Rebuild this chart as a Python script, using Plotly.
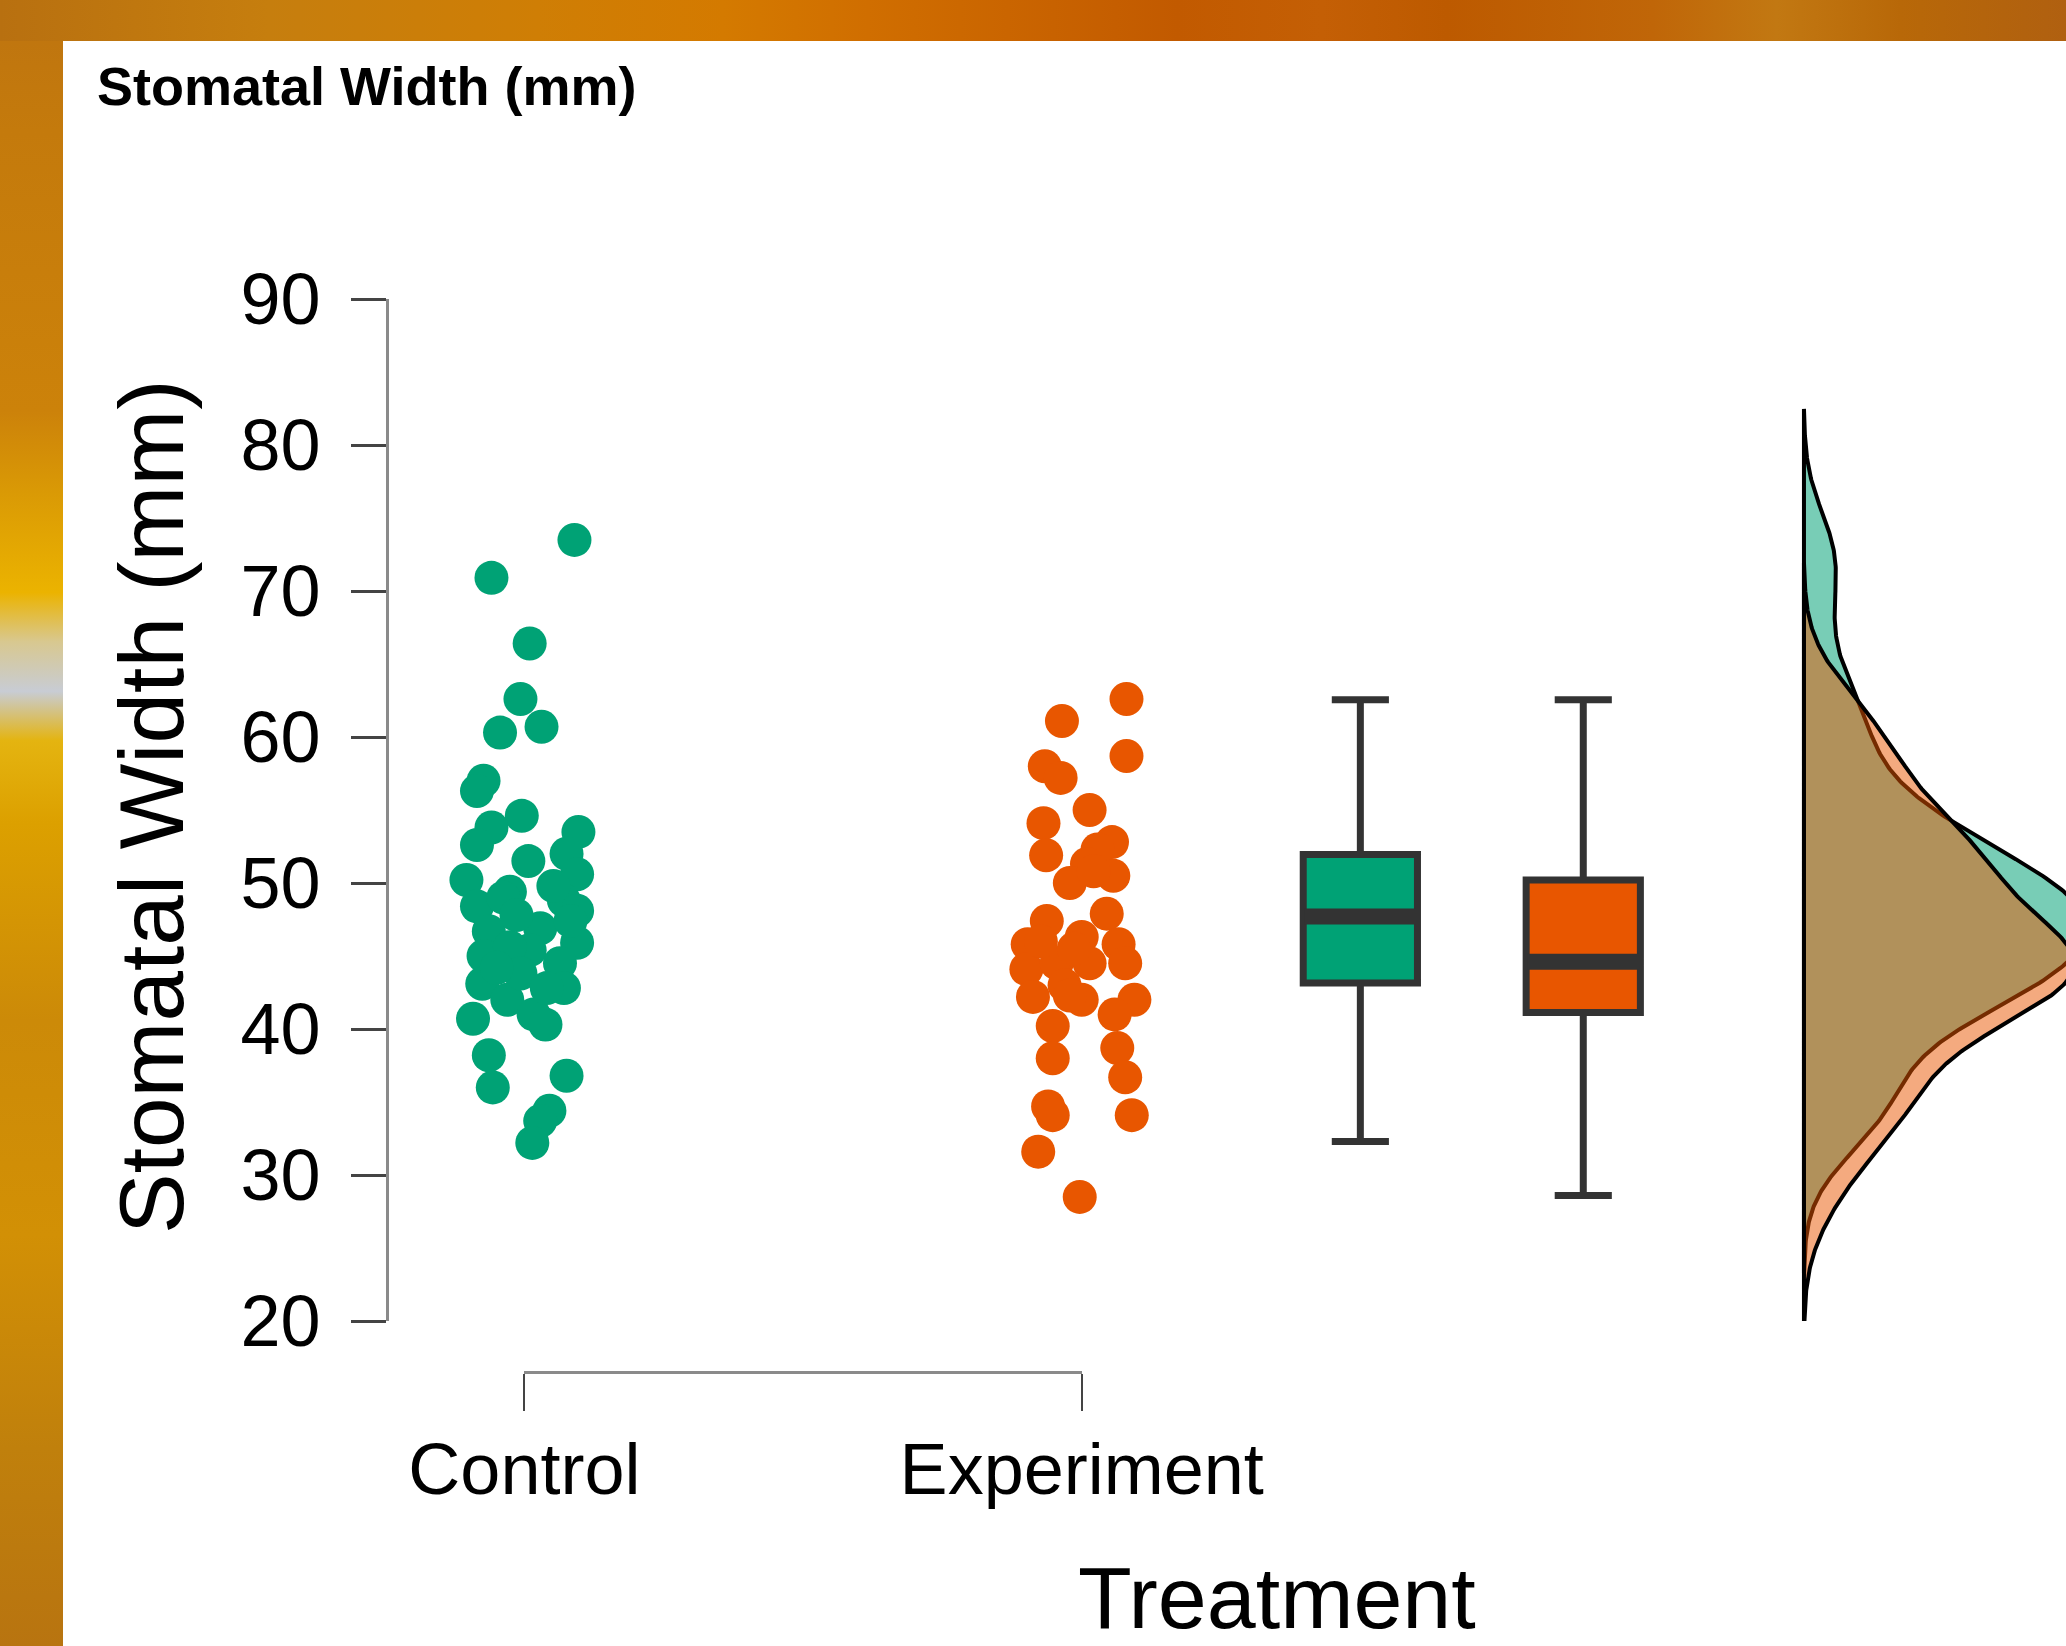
import base64
import numpy as np
import plotly.graph_objects as go

# ---------------- data ----------------
categories = ["Control", "Experiment"]

control_jitter = [436, 373, 402, 395, 411, 379.5, 367, 362, 396, 373, 439, 362, 401, 430,
                  354, 438, 387, 362, 428, 438, 371, 410, 438, 367, 402, 425, 366, 385,
                  428, 405, 414, 359, 371, 374, 430, 417, 410, 404, 387, 395, 415, 377,
                  433, 382, 420, 392]
control_values = [73.5, 70.9, 66.4, 62.6, 60.7, 60.3, 57.0, 56.3, 54.6, 53.8, 53.5, 52.6, 51.5, 52.0,
                  50.2, 50.6, 49.4, 48.4, 48.8, 48.1, 46.7, 46.9, 45.9, 45.0, 45.4, 44.5, 43.1, 42.0,
                  42.8, 41.0, 40.3, 40.7, 38.2, 36.0, 36.8, 34.4, 33.7, 32.2, 45.6, 43.8, 42.8, 44.2,
                  47.4, 49.0, 49.8, 47.8]

experiment_jitter = [855, 806, 855, 793, 805, 827, 792, 794, 844, 833, 825, 845, 812, 840,
                     794.5, 780, 821, 849, 779, 827, 854, 802, 784, 821, 861, 846, 799, 848,
                     799, 854, 795.5, 799, 859, 788, 819.5, 815, 808, 830, 790, 812]
experiment_values = [62.6, 61.1, 58.7, 58.0, 57.2, 55.0, 54.1, 51.9, 52.8, 52.3, 51.3, 50.5, 50.0, 47.9,
                     47.4, 45.8, 46.3, 45.8, 44.1, 44.5, 44.5, 44.5, 42.2, 42.0, 42.0, 41.0, 40.2, 38.7,
                     38.0, 36.7, 34.7, 34.1, 34.1, 31.6, 28.5, 45.5, 43.0, 50.8, 46.0, 42.3]

# box-plot statistics
box_q1 = [43.15, 41.13]
box_median = [47.7, 44.6]
box_q3 = [51.95, 50.2]
box_lower = [32.3, 28.6]
box_upper = [62.55, 62.55]

y_ticks = [20, 30, 40, 50, 60, 70, 80, 90]

# ---------------- layout constants ----------------
W, H = 2066, 1646
PX_PER_UNIT = 557.3
X_CTRL_PX = 524.4
xmin = 1 - X_CTRL_PX / PX_PER_UNIT
xmax = xmin + W / PX_PER_UNIT
box_pos = [2.5, 2.9]
dens_base = 3.296
green = "#00A275"
orange = "#E85600"
FONT = "Liberation Sans, Arial, sans-serif"

def jit_to_x(j, center):
    # jitter was read in 1568-wide preview pixels
    return [center + (v - (398 if center == 1 else 821)) / 423.0 for v in j]

ctrl_x = jit_to_x(control_jitter, 1)
exp_x = jit_to_x(experiment_jitter, 2)

def kde(vals):
    v = np.asarray(vals, float)
    n = len(v)
    iqr = np.percentile(v, 75) - np.percentile(v, 25)
    bw = 0.9 * min(v.std(ddof=1), iqr / 1.34) * n ** -0.2
    g = np.linspace(v.min() - 3 * bw, v.max() + 3 * bw, 512)
    d = np.exp(-0.5 * ((g[:, None] - v[None, :]) / bw) ** 2).sum(1) / (n * bw * np.sqrt(2 * np.pi))
    return g, d

g1, d1 = kde(control_values)
g2, d2 = kde(experiment_values)
scale = 0.485 / d2.max()

fig = go.Figure()

fig.add_trace(go.Scatter(x=ctrl_x, y=control_values, mode="markers",
                         marker=dict(size=34, color=green, line=dict(width=0)), showlegend=False))
fig.add_trace(go.Scatter(x=exp_x, y=experiment_values, mode="markers",
                         marker=dict(size=34, color=orange, line=dict(width=0)), showlegend=False))

for i, col in enumerate([green, orange]):
    fig.add_trace(go.Box(x=[box_pos[i]], q1=[box_q1[i]], median=[box_median[i]], q3=[box_q3[i]],
                         lowerfence=[box_lower[i]], upperfence=[box_upper[i]],
                         width=0.205, whiskerwidth=0.5, fillcolor=col,
                         line=dict(color="#333333", width=7), boxpoints=False,
                         orientation="v", showlegend=False, hoverinfo="skip"))
    fig.add_trace(go.Scatter(x=[box_pos[i] - 0.1, box_pos[i] + 0.1], y=[box_median[i]] * 2,
                             mode="lines", line=dict(color="#333333", width=16), showlegend=False))

for g, d, fc in [(g1, d1, "rgba(0,161,117,0.53)"), (g2, d2, "rgba(233,86,0,0.5)")]:
    xs = np.concatenate([[dens_base], dens_base + d * scale, [dens_base, dens_base]])
    ys = np.concatenate([[g[0]], g, [g[-1], g[0]]])
    fig.add_trace(go.Scatter(x=xs, y=ys, mode="lines", fill="toself", fillcolor=fc,
                             line=dict(color="black", width=4), showlegend=False))

# dummy trace so that the category axis (x2) exists
fig.add_trace(go.Scatter(x=[1, 2], y=[None, None], xaxis="x2", yaxis="y", showlegend=False))

# background: orange strips drawn as an svg gradient
svg = f"""<svg xmlns='http://www.w3.org/2000/svg' width='{W}' height='{H}' preserveAspectRatio='none'>
<defs>
<linearGradient id='l' x1='0' y1='0' x2='0' y2='1'>
<stop offset='0' stop-color='#BE7410'/><stop offset='0.08' stop-color='#C47A0C'/>
<stop offset='0.25' stop-color='#CC820A'/><stop offset='0.3' stop-color='#DA9A05'/>
<stop offset='0.36' stop-color='#EBB300'/><stop offset='0.39' stop-color='#D8C890'/>
<stop offset='0.42' stop-color='#C8CCD4'/><stop offset='0.45' stop-color='#E4B410'/>
<stop offset='0.5' stop-color='#DCA000'/><stop offset='0.62' stop-color='#CC8A08'/>
<stop offset='0.75' stop-color='#D29005'/><stop offset='0.88' stop-color='#C0800C'/>
<stop offset='1' stop-color='#B87410'/>
</linearGradient>
<linearGradient id='t' x1='0' y1='0' x2='1' y2='0'>
<stop offset='0' stop-color='#B87010'/><stop offset='0.13' stop-color='#C67E0E'/>
<stop offset='0.26' stop-color='#CF7E05'/><stop offset='0.35' stop-color='#D47A00'/>
<stop offset='0.42' stop-color='#D06E00'/><stop offset='0.51' stop-color='#C86200'/>
<stop offset='0.57' stop-color='#C25A00'/><stop offset='0.64' stop-color='#C45F05'/>
<stop offset='0.7' stop-color='#BD5A00'/><stop offset='0.8' stop-color='#C06608'/>
<stop offset='0.86' stop-color='#C27812'/><stop offset='0.92' stop-color='#B86808'/>
<stop offset='1' stop-color='#B06010'/>
</linearGradient>
</defs>
<rect x='0' y='0' width='{W}' height='{H}' fill='url(#l)'/>
<rect x='0' y='0' width='{W}' height='41' fill='url(#t)'/>
<rect x='63' y='41' width='{W-63}' height='{H-41}' fill='#ffffff'/>
</svg>"""
src = "data:image/svg+xml;base64," + base64.b64encode(svg.encode()).decode()

ydom = [1 - 1321 / H, 1 - 299 / H]

fig.update_layout(
    width=W, height=H, margin=dict(l=0, r=0, t=0, b=0, pad=0, autoexpand=False),
    paper_bgcolor="#C87510", plot_bgcolor="rgba(0,0,0,0)",
    boxmode="overlay", showlegend=False,
    font=dict(family=FONT, color="black"),
    images=[dict(source=src, xref="paper", yref="paper", x=0, y=1, sizex=1, sizey=1,
                 xanchor="left", yanchor="top", sizing="stretch", layer="below")],
    shapes=[dict(type="rect", xref="paper", yref="paper", x0=63 / W, x1=1, y0=0, y1=1 - 41 / H,
                 fillcolor="white", line=dict(width=0), layer="below")],
    xaxis=dict(domain=[0, 1], range=[xmin, xmax], visible=False, fixedrange=True, automargin=False),
    xaxis2=dict(domain=[X_CTRL_PX / W, (X_CTRL_PX + PX_PER_UNIT) / W], range=[1, 2],
                anchor="free", position=1 - 1372 / H, tickmode="array", tickvals=[1, 2],
                ticktext=categories, ticks="outside", ticklen=37, tickwidth=2, tickcolor="#444444",
                showline=True, linecolor="#8a8a8a", linewidth=3, showgrid=False, zeroline=False,
                automargin=False, fixedrange=True,
                tickfont=dict(size=72, family=FONT, color="black"), ticklabelstandoff=-3),
    yaxis=dict(domain=ydom, range=[20, 90], anchor="free", position=387 / W,
               tickmode="array", tickvals=y_ticks, ticks="outside", ticklen=35, tickwidth=2.5,
               tickcolor="#444444", showline=True, linecolor="#8a8a8a", linewidth=3,
               showgrid=False, zeroline=False, automargin=False, fixedrange=True,
               tickfont=dict(size=72, family=FONT, color="black"), ticklabelstandoff=16),
    annotations=[
        dict(text="<b>Stomatal Width (mm)</b>", xref="paper", yref="paper", x=95 / W, y=1 - 86 / H,
             xanchor="left", yanchor="middle", showarrow=False, font=dict(size=54, family=FONT)),
        dict(text="Stomatal Width (mm)", xref="paper", yref="paper", x=152 / W, y=1 - 807 / H,
             xanchor="center", yanchor="middle", textangle=-90, showarrow=False,
             font=dict(size=91, family=FONT)),
        dict(text="Treatment", xref="paper", yref="paper", x=1277 / W, y=1 - 1597 / H,
             xanchor="center", yanchor="middle", showarrow=False, font=dict(size=88, family=FONT)),
    ],
)

fig.write_html("out.html", config={"displayModeBar": False},
               post_script="document.body.style.margin='0px';")
